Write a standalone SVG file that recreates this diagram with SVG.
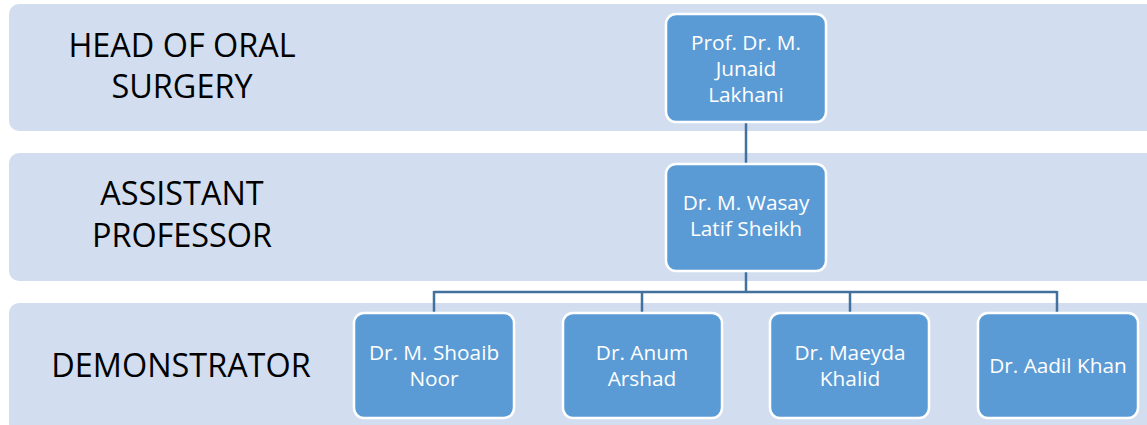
<svg xmlns="http://www.w3.org/2000/svg" width="1147" height="425" viewBox="0 0 1147 425">
<style>
.band{fill:#D2DEEF;}
.lbl{font-family:"Open Sans","Liberation Sans",sans-serif;font-size:32.4px;fill:#000;text-anchor:middle;}
.node{fill:#5B9BD5;stroke:#fff;stroke-width:2.5;}
.nt{font-family:"Open Sans","Liberation Sans",sans-serif;font-size:20.8px;fill:#fff;text-anchor:middle;}
.conn{stroke:#41719C;stroke-width:2.5;fill:none;}
</style>
<rect width="1147" height="425" fill="#fff"/>
<g id="bands">
<rect class="band" x="9" y="4" width="1150" height="127" rx="10"/>
<rect class="band" x="9" y="153" width="1150" height="128" rx="10"/>
<rect class="band" x="9" y="303" width="1150" height="130" rx="10"/>
<text class="lbl" x="182" y="57">HEAD OF ORAL</text>
<text class="lbl" x="182" y="98">SURGERY</text>
<text class="lbl" x="182" y="205">ASSISTANT</text>
<text class="lbl" x="182" y="247">PROFESSOR</text>
<text class="lbl" x="181" y="377">DEMONSTRATOR</text>
</g>
<g id="connectors">
<path class="conn" d="M746 122 V164"/>
<path class="conn" d="M746 271 V292 M434 292 H1057 M434 291 V313 M642 291 V313 M850 291 V313 M1057 291 V313"/>
</g>
<g id="n1">
<rect class="node" x="666" y="14" width="160" height="108" rx="10"/>
<text class="nt" x="746" y="50">Prof. Dr. M.</text>
<text class="nt" x="746" y="76">Junaid</text>
<text class="nt" x="746" y="102">Lakhani</text>
</g>
<g id="n2">
<rect class="node" x="666" y="164" width="160" height="107" rx="10"/>
<text class="nt" x="746" y="210">Dr. M. Wasay</text>
<text class="nt" x="746" y="236">Latif Sheikh</text>
</g>
<g id="n3">
<rect class="node" x="354" y="313" width="160" height="105" rx="10"/>
<text class="nt" x="434" y="360">Dr. M. Shoaib</text>
<text class="nt" x="434" y="386">Noor</text>
</g>
<g id="n4">
<rect class="node" x="563" y="313" width="159" height="105" rx="10"/>
<text class="nt" x="642" y="360">Dr. Anum</text>
<text class="nt" x="642" y="386">Arshad</text>
</g>
<g id="n5">
<rect class="node" x="770" y="313" width="159" height="105" rx="10"/>
<text class="nt" x="850" y="360">Dr. Maeyda</text>
<text class="nt" x="850" y="386">Khalid</text>
</g>
<g id="n6">
<rect class="node" x="978" y="313" width="160" height="105" rx="10"/>
<text class="nt" x="1058" y="373">Dr. Aadil Khan</text>
</g>
</svg>
